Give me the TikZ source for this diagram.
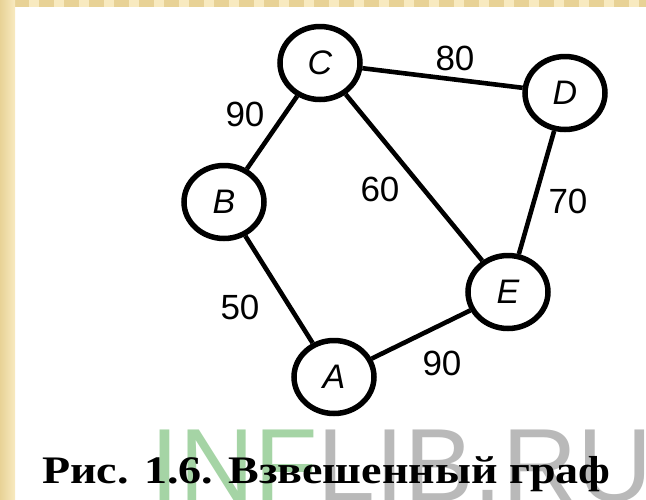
\documentclass[tikz,border=0pt]{standalone}
\usepackage{fontspec}
\setmainfont{Liberation Serif}
\setsansfont{Liberation Sans}
\usetikzlibrary{shapes.geometric}

\definecolor{framegold}{RGB}{232,210,150}
\definecolor{framelight}{RGB}{248,234,192}
\definecolor{wmgreen}{RGB}{165,212,165}
\definecolor{wmgray}{RGB}{185,185,185}

\begin{document}
\begin{tikzpicture}[x=1pt,y=-1pt,
  vertex/.style={ellipse, draw, line width=5.5pt, minimum width=80pt,
    minimum height=73pt, inner sep=0pt,
    font=\sffamily\itshape\fontsize{34}{34}\selectfont},
  edge/.style={line width=4.6pt},
  weight/.style={inner sep=0pt, font=\sffamily\fontsize{35}{35}\selectfont}]
\useasboundingbox (0,0) rectangle (646,499);
\fill[white] (0,0) rectangle (646,499);

% decorative frame: top and left bands
\fill[framegold] (0,0) rectangle (646,7);
\foreach \i in {0,...,25} {
  \fill[framelight] (\i*25+4,0) rectangle (\i*25+14,7);
}
\shade[left color=framegold, right color=framelight] (0,0) rectangle (15,499);

% watermark
\node[anchor=base west, inner sep=0pt,
  font=\sffamily\fontsize{104}{104}\selectfont] (wm) at (150,501)
  {\textcolor{wmgreen}{INF}\textcolor{wmgray}{LIB.RU}};

% vertices
\node[vertex] (C) at (320,63) {C};
\node[vertex] (D) at (565,93) {D};
\node[vertex] (B) at (224,202) {B};
\node[vertex] (E) at (508,292) {E};
\node[vertex] (A) at (334,377) {A};

% edges
\draw[edge] (C) -- (B);
\draw[edge] (C) -- (D);
\draw[edge] (C) -- (E);
\draw[edge] (D) -- (E);
\draw[edge] (B) -- (A);
\draw[edge] (A) -- (E);

% weights
\node[weight] (wCB) at (245,114) {90};
\node[weight] (wCE) at (380,189) {60};
\node[weight] (wCD) at (455,58) {80};
\node[weight] (wDE) at (568,201) {70};
\node[weight] (wBA) at (240,307) {50};
\node[weight] (wAE) at (442,363) {90};

% caption
\node[anchor=base west, inner sep=0pt,
  font=\bfseries\fontsize{39}{39}\selectfont] (cap) at (42,483)
  {\scalebox{1.18}[1]{Рис. 1.6. Взвешенный граф}};
\end{tikzpicture}
\end{document}
